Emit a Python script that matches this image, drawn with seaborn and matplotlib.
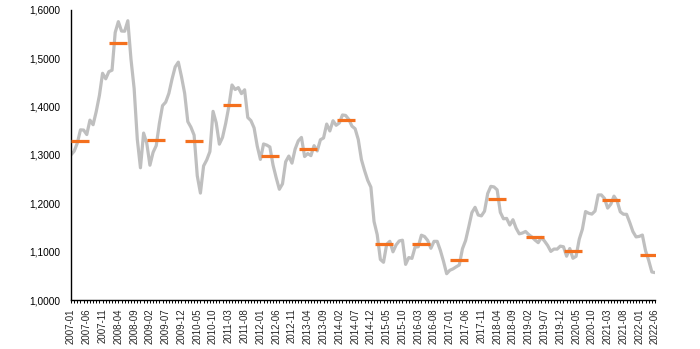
import matplotlib
matplotlib.use("Agg")
import matplotlib.pyplot as plt
import matplotlib.ticker as mticker
import numpy as np
import pandas as pd
import seaborn as sns

# Monthly average EUR/USD, 2007-01 .. 2022-06
rate_2007 = [1.2999, 1.3074, 1.3242, 1.3516, 1.3511, 1.3419, 1.3716, 1.3622, 1.3896, 1.4227, 1.4684, 1.4570]
rate_2008 = [1.4718, 1.4748, 1.5527, 1.5751, 1.5557, 1.5553, 1.5770, 1.4975, 1.4370, 1.3322, 1.2732, 1.3449]
rate_2009 = [1.3239, 1.2785, 1.3050, 1.3190, 1.3650, 1.4016, 1.4088, 1.4268, 1.4562, 1.4816, 1.4914, 1.4614]
rate_2010 = [1.4272, 1.3686, 1.3569, 1.3406, 1.2565, 1.2209, 1.2770, 1.2894, 1.3067, 1.3898, 1.3661, 1.3220]
rate_2011 = [1.3360, 1.3649, 1.3999, 1.4442, 1.4349, 1.4388, 1.4264, 1.4343, 1.3770, 1.3706, 1.3556, 1.3179]
rate_2012 = [1.2905, 1.3224, 1.3201, 1.3162, 1.2789, 1.2526, 1.2288, 1.2400, 1.2856, 1.2974, 1.2828, 1.3119]
rate_2013 = [1.3288, 1.3359, 1.2964, 1.3026, 1.2982, 1.3189, 1.3080, 1.3310, 1.3348, 1.3635, 1.3493, 1.3704]
rate_2014 = [1.3610, 1.3659, 1.3823, 1.3813, 1.3732, 1.3592, 1.3539, 1.3316, 1.2901, 1.2673, 1.2472, 1.2331]
rate_2015 = [1.1621, 1.1350, 1.0838, 1.0779, 1.1150, 1.1213, 1.0996, 1.1139, 1.1221, 1.1235, 1.0736, 1.0877]
rate_2016 = [1.0860, 1.1093, 1.1100, 1.1339, 1.1311, 1.1229, 1.1069, 1.1212, 1.1212, 1.1026, 1.0799, 1.0543]
rate_2017 = [1.0614, 1.0643, 1.0685, 1.0723, 1.1058, 1.1229, 1.1511, 1.1807, 1.1915, 1.1756, 1.1738, 1.1836]
rate_2018 = [1.2200, 1.2348, 1.2336, 1.2276, 1.1812, 1.1678, 1.1686, 1.1549, 1.1659, 1.1484, 1.1367, 1.1384]
rate_2019 = [1.1416, 1.1351, 1.1302, 1.1238, 1.1185, 1.1293, 1.1218, 1.1126, 1.1004, 1.1053, 1.1051, 1.1113]
rate_2020 = [1.1100, 1.0905, 1.1063, 1.0862, 1.0902, 1.1255, 1.1463, 1.1828, 1.1792, 1.1775, 1.1838, 1.2170]
rate_2021 = [1.2171, 1.2098, 1.1899, 1.1979, 1.2146, 1.2047, 1.1822, 1.1772, 1.1770, 1.1601, 1.1414, 1.1304]
rate_2022 = [1.1314, 1.1342, 1.1019, 1.0819, 1.0579, 1.0566]

# Yearly reference levels (one dash per year)
years = list(range(2007, 2023))
yearly_level = [1.329, 1.531, 1.331, 1.329, 1.403, 1.2975, 1.313, 1.371,
                1.116, 1.116, 1.082, 1.209, 1.1295, 1.102, 1.206, 1.094]

monthly = (rate_2007 + rate_2008 + rate_2009 + rate_2010 + rate_2011 + rate_2012 +
           rate_2013 + rate_2014 + rate_2015 + rate_2016 + rate_2017 + rate_2018 +
           rate_2019 + rate_2020 + rate_2021 + rate_2022)
months = pd.period_range("2007-01", periods=len(monthly), freq="M")
month_labels = [str(p) for p in months]

line_df = pd.DataFrame({"pos": np.arange(len(monthly)), "rate": monthly})
dash_df = pd.DataFrame({"pos": [(y - 2007) * 12 + 3 for y in years], "level": yearly_level})

sns.set_style("white")
plt.rcParams["font.family"] = ["Liberation Sans", "DejaVu Sans"]

fig = plt.figure(figsize=(7.0, 3.49), dpi=100)
ax = fig.add_axes([71 / 700, 49 / 349, 584 / 700, 290.4 / 349])

sns.lineplot(data=line_df, x="pos", y="rate", ax=ax, color="#BFBFBF",
             linewidth=2.3, zorder=2)
sns.scatterplot(data=dash_df, x="pos", y="level", ax=ax, marker="_", s=175,
                color="#F4701E", linewidth=2.3, zorder=3)

ax.set_xlim(0, len(monthly) - 1)
ax.set_ylim(1.0, 1.6)
ax.set_xlabel("")
ax.set_ylabel("")

ax.yaxis.set_major_locator(mticker.MultipleLocator(0.1))
ax.yaxis.set_major_formatter(
    mticker.FuncFormatter(lambda v, _: f"{v:.4f}".replace(".", ",")))
ax.tick_params(axis="y", length=0, pad=7.5, labelsize=7.3, colors="#000000")

major_pos = list(range(0, len(monthly), 5))
ax.set_xticks(major_pos)
ax.set_xticklabels([month_labels[i] for i in major_pos], rotation=90,
                   fontsize=7.0)
ax.set_xticks(range(len(monthly)), minor=True)
ax.tick_params(axis="x", which="both", direction="out", length=2.5,
               width=0.7, color="#000000", pad=3.5, bottom=True)

for side in ("top", "right"):
    ax.spines[side].set_visible(False)
for side in ("left", "bottom"):
    ax.spines[side].set_color("#000000")
    ax.spines[side].set_linewidth(1.0)

ax.grid(False)
fig.savefig("out.png", dpi=100, facecolor="white")
